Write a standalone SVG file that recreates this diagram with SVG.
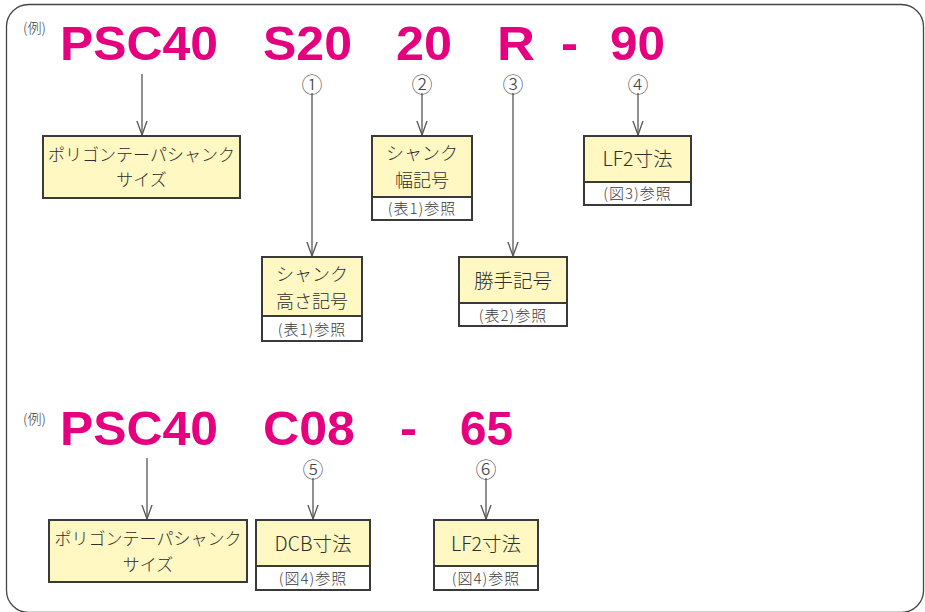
<svg xmlns="http://www.w3.org/2000/svg" width="925" height="612" viewBox="0 0 925 612">
<defs>
<style>
.big{font-family:"Liberation Sans",Arial,sans-serif;font-weight:bold;font-size:48px;fill:#e5007f;}
.rei{font-family:"Noto Sans CJK JP",sans-serif;font-size:14px;fill:#444;font-weight:300;}
.num{font-family:"Noto Sans CJK JP",sans-serif;font-size:21px;fill:#444;text-anchor:middle;font-weight:300;}
.t{font-family:"Noto Sans CJK JP","Liberation Sans",sans-serif;font-size:18px;fill:#2e2e2e;text-anchor:middle;font-weight:300;}
.t19{font-size:19.5px;}
.t17{font-size:17px;}
.cap{font-family:"Noto Sans CJK JP","Liberation Sans",sans-serif;font-size:15px;fill:#3a3a3a;text-anchor:middle;letter-spacing:1px;font-weight:300;}
.box{fill:#fff8c2;stroke:#3a3a3a;stroke-width:2;}
.low{fill:#ffffff;stroke:#3a3a3a;stroke-width:2;}
.con line{stroke:#555;stroke-width:1.3;fill:none;marker-end:url(#arr);}
</style>
<marker id="arr" viewBox="0 0 15 12" refX="14.5" refY="6" markerWidth="15" markerHeight="12" markerUnits="userSpaceOnUse" orient="auto">
<polyline points="0,0.8 14.5,6 0,11.2" fill="none" stroke="#555" stroke-width="1.3"/>
</marker>
</defs>
<rect x="6.5" y="4.5" width="917" height="608" rx="22" ry="22" fill="#fff" stroke="#444" stroke-width="1.3"/>

<g id="code-top">
<text class="rei" x="23" y="33">(例)</text>
<text class="big" x="60" y="60" textLength="158" lengthAdjust="spacingAndGlyphs">PSC40</text>
<text class="big" x="263" y="60" textLength="89" lengthAdjust="spacingAndGlyphs">S20</text>
<text class="big" x="396" y="60" textLength="56" lengthAdjust="spacingAndGlyphs">20</text>
<text class="big" x="497" y="60" textLength="38" lengthAdjust="spacingAndGlyphs">R</text>
<text class="big" x="561" y="60" textLength="17" lengthAdjust="spacingAndGlyphs">-</text>
<text class="big" x="610" y="60" textLength="55" lengthAdjust="spacingAndGlyphs">90</text>
<text class="num" x="312" y="92">①</text>
<text class="num" x="422" y="92">②</text>
<text class="num" x="513" y="92">③</text>
<text class="num" x="638" y="92">④</text>
</g>

<g id="code-bottom">
<text class="rei" x="23" y="424">(例)</text>
<text class="big" x="60" y="445" textLength="158" lengthAdjust="spacingAndGlyphs">PSC40</text>
<text class="big" x="263" y="445" textLength="92" lengthAdjust="spacingAndGlyphs">C08</text>
<text class="big" x="400" y="445" textLength="17" lengthAdjust="spacingAndGlyphs">-</text>
<text class="big" x="460" y="445" textLength="53" lengthAdjust="spacingAndGlyphs">65</text>
<text class="num" x="313" y="477">⑤</text>
<text class="num" x="486" y="477">⑥</text>
</g>

<g class="con" id="connectors">
<line x1="142" y1="74" x2="142" y2="135"/>
<line x1="312" y1="93" x2="312" y2="256"/>
<line x1="422" y1="93" x2="422" y2="135"/>
<line x1="513" y1="93" x2="513" y2="256"/>
<line x1="638" y1="93" x2="638" y2="135"/>
<line x1="147" y1="458" x2="147" y2="519"/>
<line x1="313" y1="478" x2="313" y2="519"/>
<line x1="486" y1="478" x2="486" y2="519"/>
</g>

<g id="n-size-top">
<rect class="box" x="43" y="136" width="197" height="62"/>
<text class="t t17" x="141.5" y="161">ポリゴンテーパシャンク</text>
<text class="t t17" x="141.5" y="186">サイズ</text>
</g>

<g id="n-height">
<rect class="box" x="262" y="257" width="100" height="84"/>
<rect class="low" x="262" y="316" width="100" height="25"/>
<text class="t" x="312" y="281">シャンク</text>
<text class="t" x="312" y="308">高さ記号</text>
<text class="cap" x="312" y="334.5">(表1)参照</text>
</g>

<g id="n-width">
<rect class="box" x="372" y="136" width="100" height="84"/>
<rect class="low" x="372" y="197" width="100" height="23"/>
<text class="t" x="422" y="160">シャンク</text>
<text class="t" x="422" y="187">幅記号</text>
<text class="cap" x="422" y="214">(表1)参照</text>
</g>

<g id="n-hand">
<rect class="box" x="459" y="257" width="108" height="69"/>
<rect class="low" x="459" y="303" width="108" height="23"/>
<text class="t t19" x="513" y="288">勝手記号</text>
<text class="cap" x="513" y="320.5">(表2)参照</text>
</g>

<g id="n-lf2-top">
<rect class="box" x="584" y="136" width="107" height="69"/>
<rect class="low" x="584" y="182" width="107" height="23"/>
<text class="t t19" x="637.5" y="166">LF2寸法</text>
<text class="cap" x="637.5" y="199">(図3)参照</text>
</g>

<g id="n-size-bottom">
<rect class="box" x="49" y="520" width="198" height="62"/>
<text class="t t17" x="148" y="545">ポリゴンテーパシャンク</text>
<text class="t t17" x="148" y="571">サイズ</text>
</g>

<g id="n-dcb">
<rect class="box" x="256" y="520" width="114" height="70"/>
<rect class="low" x="256" y="566" width="114" height="24"/>
<text class="t t19" x="313" y="551">DCB寸法</text>
<text class="cap" x="313" y="583.5">(図4)参照</text>
</g>

<g id="n-lf2-bottom">
<rect class="box" x="434" y="520" width="104" height="70"/>
<rect class="low" x="434" y="566" width="104" height="24"/>
<text class="t t19" x="486" y="551">LF2寸法</text>
<text class="cap" x="486" y="583.5">(図4)参照</text>
</g>
</svg>
